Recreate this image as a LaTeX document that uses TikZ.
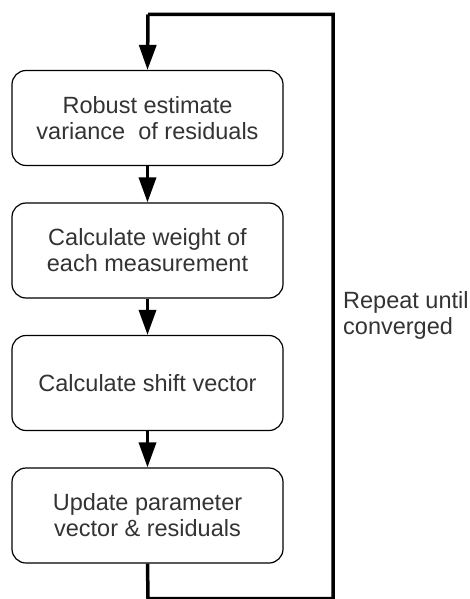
\documentclass[tikz,border=0pt]{standalone}
\usepackage{fontspec}
\setmainfont{Liberation Sans}
\usetikzlibrary{arrows.meta}
\definecolor{txt}{HTML}{333333}
\tikzset{
  stepbox/.style={draw=black, line width=1.2pt, rounded corners=14pt,
    minimum width=271pt, minimum height=95pt, align=center,
    text=txt, font=\fontsize{23.5pt}{26pt}\selectfont, inner sep=0pt},
  flow/.style={line width=3.5pt, -{Triangle[length=25pt,width=17pt]}},
  loopline/.style={line width=3.5pt},
}
\begin{document}
\begin{tikzpicture}[x=1pt,y=-1pt]
\useasboundingbox (0,0) rectangle (470,599);
\node[stepbox] (b1) at (147.5,118) {Robust estimate\\variance\ \ of residuals};
\node[stepbox] (b2) at (147.5,250.5) {Calculate weight of\\each measurement};
\node[stepbox] (b3) at (147.5,383) {Calculate shift vector};
\node[stepbox] (b4) at (147.5,515.5) {Update parameter\\vector \& residuals};
\draw[flow] (b1.south) -- (b2.north);
\draw[flow] (b2.south) -- (b3.north);
\draw[flow] (b3.south) -- (b4.north);
\coordinate (c1) at (148,598.5);
\coordinate (c2) at (333,598.5);
\coordinate (c3) at (333,14.5);
\coordinate (c4) at (148,14.5);
\draw[loopline, line join=miter] (b4.south) -- (c1) -- (c2) -- (c3) -- (c4);
\draw[flow] (c4) -- (b1.north);
\node[anchor=north west, align=left, text=txt, font=\fontsize{23.5pt}{26pt}\selectfont, inner sep=0pt]
  (lbl) at (343,291) {Repeat until\\converged};
\end{tikzpicture}
\end{document}
